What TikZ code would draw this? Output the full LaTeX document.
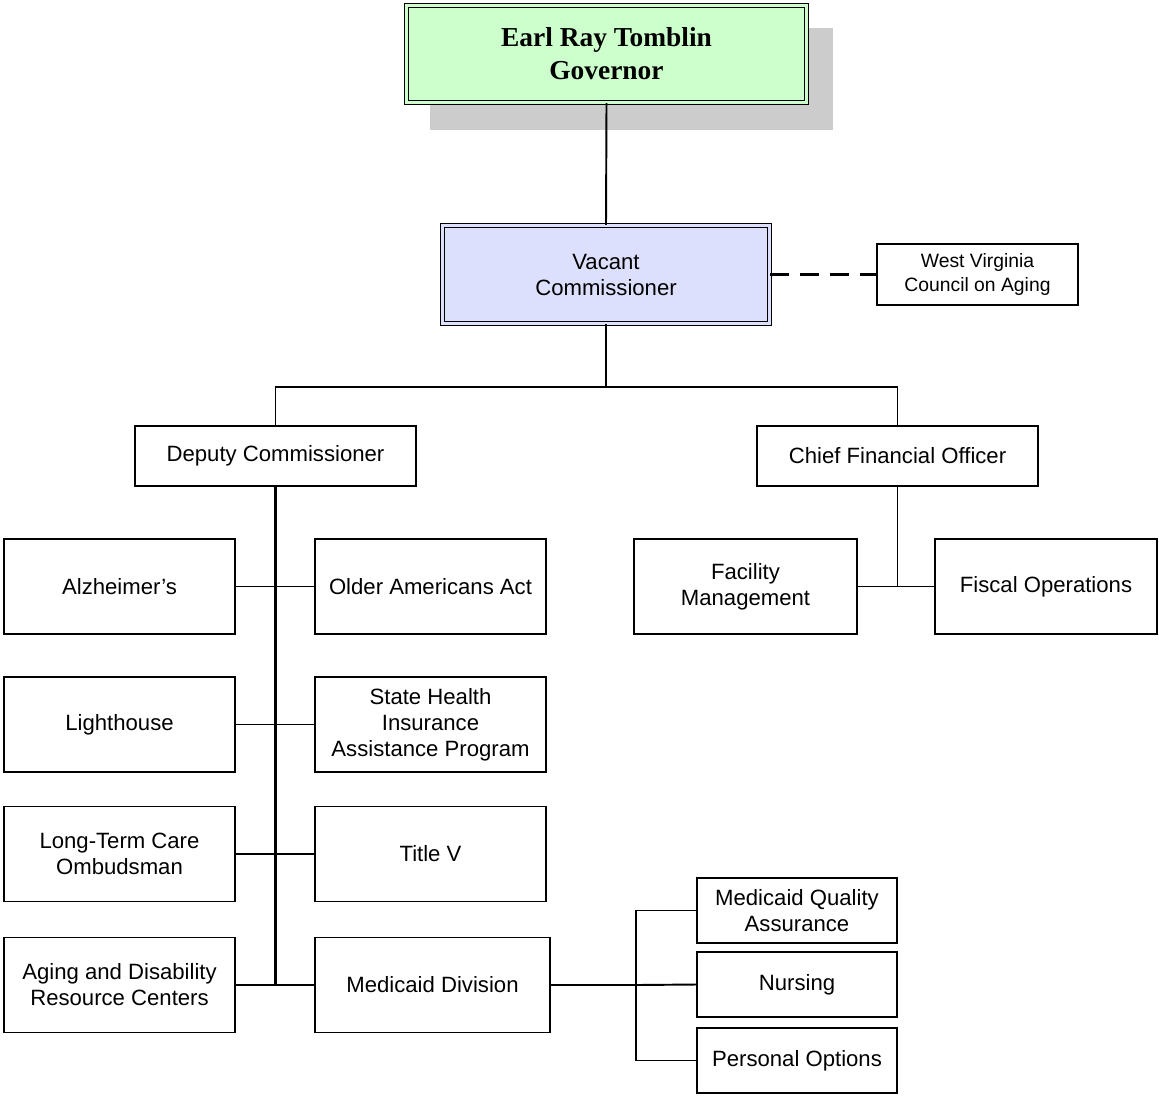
\documentclass[tikz,border=0pt]{standalone}
\usepackage{fontspec}
\setmainfont{Liberation Sans}
\newfontfamily\govfont{Liberation Serif}
\usetikzlibrary{positioning, calc}
\definecolor{GovGreen}{RGB}{204, 255, 204}
\definecolor{CommBlue}{RGB}{221, 224, 252}
\definecolor{ShadowGray}{RGB}{204, 204, 204}

\begin{document}
\begin{tikzpicture}[
    x=0.02cm, y=-0.02cm,
    font=\fontsize{12.6}{14.8}\selectfont,
    unit/.style={
        draw=black,                % Plain boxes for the program units
        fill=white,
        line width=0.8pt,
        inner sep=2pt,
        align=center,
        minimum width=4.62cm,
        minimum height=1.9cm
    },
    headbox/.style={
        unit,
        minimum width=5.62cm,
        minimum height=1.2cm
    },
    smallbox/.style={
        unit,
        minimum width=4cm,
        minimum height=1.3cm
    },
    topbox/.style={
        draw=black,
        line width=0.6pt,
        double distance=1.6pt,     % Framed look for the two top offices
        align=center,
        inner sep=2pt
    },
    link/.style={
        draw=black,
        line width=1.1pt
    },
    dashed_link/.style={
        link,
        line width=1.2pt,
        dash pattern=on 11pt off 6pt
    }
]

    % --- 0. Canvas ---
    \useasboundingbox (0,0) rectangle (1159,1096);

    % --- 1. Governor and Commissioner ---
    \fill[ShadowGray] (430,28) rectangle (833,130);
    \node[topbox, fill=GovGreen, double=GovGreen, minimum width=8.0cm, minimum height=1.94cm,
          font=\govfont\bfseries\fontsize{15.6}{18.8}\selectfont] (gov) at (606.5,54) {Earl Ray Tomblin\\Governor};

    \node[topbox, fill=CommBlue, double=CommBlue, minimum width=6.54cm, minimum height=1.96cm] (comm) at (606,274.5) {Vacant\\Commissioner};
    \node[unit, minimum width=4.02cm, minimum height=1.22cm, font=\fontsize{11}{13.2}\selectfont] (council) at (977.5,274.5) {West Virginia\\Council on Aging};

    % --- 2. Deputy and CFO ---
    \node[headbox] (deputy) at (275.5,456) {Deputy Commissioner};
    \node[headbox] (cfo) at (897.5,456) {Chief Financial Officer};

    % --- 3. Program units under the Deputy ---
    \node[unit] (alz) at (119.5,586.5) {Alzheimer's};
    \node[unit] (oaa) at (430.5,586.5) {Older Americans Act};
    \node[unit] (light) at (119.5,724.5) {Lighthouse};
    \node[unit] (ship) at (430.5,724.5) {State Health\\Insurance\\Assistance Program};
    \node[unit] (ombud) at (119.5,854) {Long-Term Care\\Ombudsman};
    \node[unit] (titlev) at (430.5,854) {Title V};
    \node[unit] (adrc) at (119.5,985) {Aging and Disability\\Resource Centers};
    \node[unit, minimum width=4.7cm] (medicaid) at (432.5,985) {Medicaid Division};

    % --- 4. Units under the CFO ---
    \node[unit, minimum width=4.46cm] (facility) at (745.5,586.5) {Facility\\Management};
    \node[unit, minimum width=4.44cm] (fiscal) at (1046,586.5) {Fiscal Operations};

    % --- 5. Medicaid sections ---
    \node[smallbox] (quality) at (797,910.5) {Medicaid Quality\\Assurance};
    \node[smallbox] (nursing) at (797,984.5) {Nursing};
    \node[smallbox] (options) at (797,1060.5) {Personal Options};

    % --- 6. Connectors ---
    \coordinate (split) at (606,387);
    \coordinate (mbus) at (636,985);

    \draw[link] (gov.south) -- (comm.north);
    \draw[dashed_link] (comm.east) -- (council.west);
    \draw[link] (comm.south) -- (split);
    \draw[link] (deputy.north) |- (split) -| (cfo.north);

    % Deputy trunk with its pairs of units
    \draw[link, line width=1.4pt] (deputy.south) -- (deputy.south |- adrc.east);
    \draw[link] (alz.east) -- (oaa.west);
    \draw[link] (light.east) -- (ship.west);
    \draw[link] (ombud.east) -- (titlev.west);
    \draw[link] (adrc.east) -- (medicaid.west);

    % CFO branch
    \draw[link] (cfo.south) -- (cfo.south |- facility.east);
    \draw[link] (facility.east) -- (fiscal.west);

    % Medicaid bus
    \draw[link] (medicaid.east) -- (mbus);
    \draw[link] (quality.west) -| (mbus) |- (options.west);
    \draw[link] (mbus) -- (nursing.west);

\end{tikzpicture}
\end{document}
